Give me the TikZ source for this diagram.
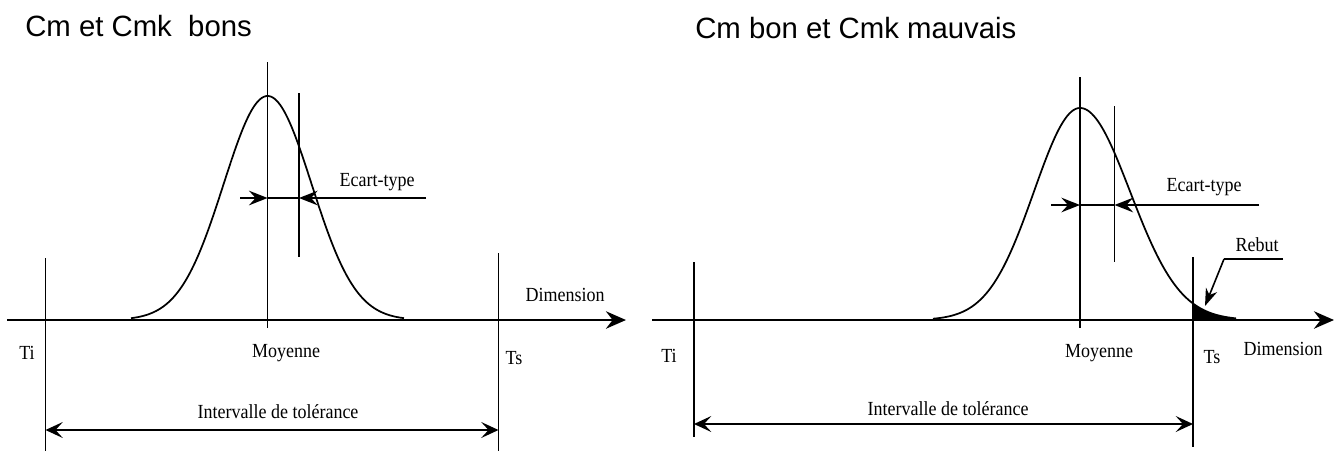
\documentclass[tikz,border=0pt]{standalone}
\usepackage{fontspec}
\setmainfont{Liberation Serif}
\newfontfamily\titlefont{Liberation Sans}
\newfontfamily\labelfont[FakeStretch=0.9]{Liberation Serif}
\usetikzlibrary{arrows.meta}

\begin{document}
\begin{tikzpicture}[x=0.75pt,y=-0.75pt,
  axisline/.style={line width=2.2pt,-{Stealth[length=15pt,width=13pt,inset=5pt]}},
  guide/.style={line width=0.9pt},
  bell/.style={line width=1.3pt},
  sigarrow/.style={line width=1.2pt,-{Stealth[length=14pt,width=11pt,inset=5pt]}},
  tolarrow/.style={line width=1.1pt,{Stealth[length=13pt,width=12pt,inset=5.5pt]}-{Stealth[length=13pt,width=12pt,inset=5.5pt]}},
  leader/.style={line width=1.2pt,-{Stealth[length=13pt,width=9pt,inset=4pt]}},
  lab/.style={font=\labelfont\fontsize{15}{17}\selectfont,inner sep=0pt},
  ttl/.style={font=\titlefont\fontsize{22}{25}\selectfont,inner sep=0pt,anchor=west},
]
\useasboundingbox (0,0) rectangle (1338,451);

% ---------------- left: Cm and Cmk both good ----------------
\node[ttl] (L-title) at (25,26) {Cm et Cmk\ \ bons};

\coordinate (L-ax0) at (7,320);
\coordinate (L-ax1) at (626,320);
\coordinate (L-ti-t) at (45.5,258);
\coordinate (L-ti-b) at (45.5,451);
\coordinate (L-ts-t) at (498.5,253);
\coordinate (L-ts-b) at (498.5,451);
\coordinate (L-mu-t) at (267.6,62);
\coordinate (L-mu-b) at (267.6,328);
\coordinate (L-sg-t) at (299,93);
\coordinate (L-sg-b) at (299,257);
\coordinate (L-e0) at (240,198);
\coordinate (L-em) at (267.6,198);
\coordinate (L-es) at (299,198);
\coordinate (L-e1) at (426,198);
\coordinate (L-tol0) at (45.5,430);
\coordinate (L-tol1) at (498.5,430);

% bell curve centred on the mean
\draw[bell] plot[domain=131:404,samples=120,smooth]
  (\x,{320-224*exp(-((\x-267.6)/44)^2/2)});

\draw[guide] (L-ti-t) -- (L-ti-b);
\draw[guide] (L-ts-t) -- (L-ts-b);
\draw[guide] (L-mu-t) -- (L-mu-b);
\draw[guide] (L-sg-t) -- (L-sg-b);
\draw[axisline] (L-ax0) -- (L-ax1);

\draw[sigarrow] (L-e0) -- (L-em);
\draw[line width=1.2pt] (L-em) -- (L-es);
\draw[sigarrow] (L-e1) -- (L-es);
\draw[tolarrow] (L-tol0) -- (L-tol1);

\node[lab] (L-ecart) at (377,182) {Ecart-type};
\node[lab] (L-dim) at (565,295) {Dimension};
\node[lab] (L-ti) at (27,353) {Ti};
\node[lab] (L-moy) at (286,353) {Moyenne};
\node[lab] (L-ts) at (514,358) {Ts};
\node[lab] (L-int) at (278,412) {Intervalle de tolérance};

% ---------------- right: Cm good, Cmk bad ----------------
\node[ttl] (R-title) at (695,28) {Cm bon et Cmk mauvais};

\coordinate (R-ax0) at (652,320);
\coordinate (R-ax1) at (1334,320);
\coordinate (R-ti-t) at (694,262);
\coordinate (R-ti-b) at (694,437);
\coordinate (R-ts-t) at (1193,257);
\coordinate (R-ts-b) at (1193,447);
\coordinate (R-mu-t) at (1080,77);
\coordinate (R-mu-b) at (1080,328);
\coordinate (R-sg-t) at (1114.5,106);
\coordinate (R-sg-b) at (1114.5,262);
\coordinate (R-e0) at (1051,205);
\coordinate (R-em) at (1080,205);
\coordinate (R-es) at (1114.5,205);
\coordinate (R-e1) at (1259,205);
\coordinate (R-tol0) at (694,424);
\coordinate (R-tol1) at (1193,424);
\coordinate (R-rb0) at (1283,259);
\coordinate (R-rb1) at (1224,259);
\coordinate (R-rbt) at (1205,306);

% scrap: the tail beyond the upper tolerance
\fill plot[domain=1193:1236,samples=30,smooth]
  (\x,{320-212*exp(-((\x-1080)/50)^2/2)}) -- (1236,320) -- (1193,320) -- cycle;

% shifted bell curve
\draw[bell] plot[domain=933:1080,samples=70,smooth]
  (\x,{320-212*exp(-((\x-1080)/46)^2/2)})
  -- plot[domain=1080:1236,samples=70,smooth]
  (\x,{320-212*exp(-((\x-1080)/50)^2/2)});

\draw[guide] (R-ti-t) -- (R-ti-b);
\draw[guide] (R-ts-t) -- (R-ts-b);
\draw[guide] (R-mu-t) -- (R-mu-b);
\draw[guide] (R-sg-t) -- (R-sg-b);
\draw[axisline] (R-ax0) -- (R-ax1);

\draw[sigarrow] (R-e0) -- (R-em);
\draw[line width=1.2pt] (R-em) -- (R-es);
\draw[sigarrow] (R-e1) -- (R-es);
\draw[tolarrow] (R-tol0) -- (R-tol1);
\draw[line width=1.2pt] (R-rb0) -- (R-rb1);
\draw[leader] (R-rb1) -- (R-rbt);

\node[lab] (R-ecart) at (1204,187) {Ecart-type};
\node[lab] (R-rebut) at (1257,245) {Rebut};
\node[lab] (R-dim) at (1283,349) {Dimension};
\node[lab] (R-ti) at (669,356) {Ti};
\node[lab] (R-moy) at (1099,353) {Moyenne};
\node[lab] (R-ts) at (1212,357) {Ts};
\node[lab] (R-int) at (948,409) {Intervalle de tolérance};
\end{tikzpicture}
\end{document}
